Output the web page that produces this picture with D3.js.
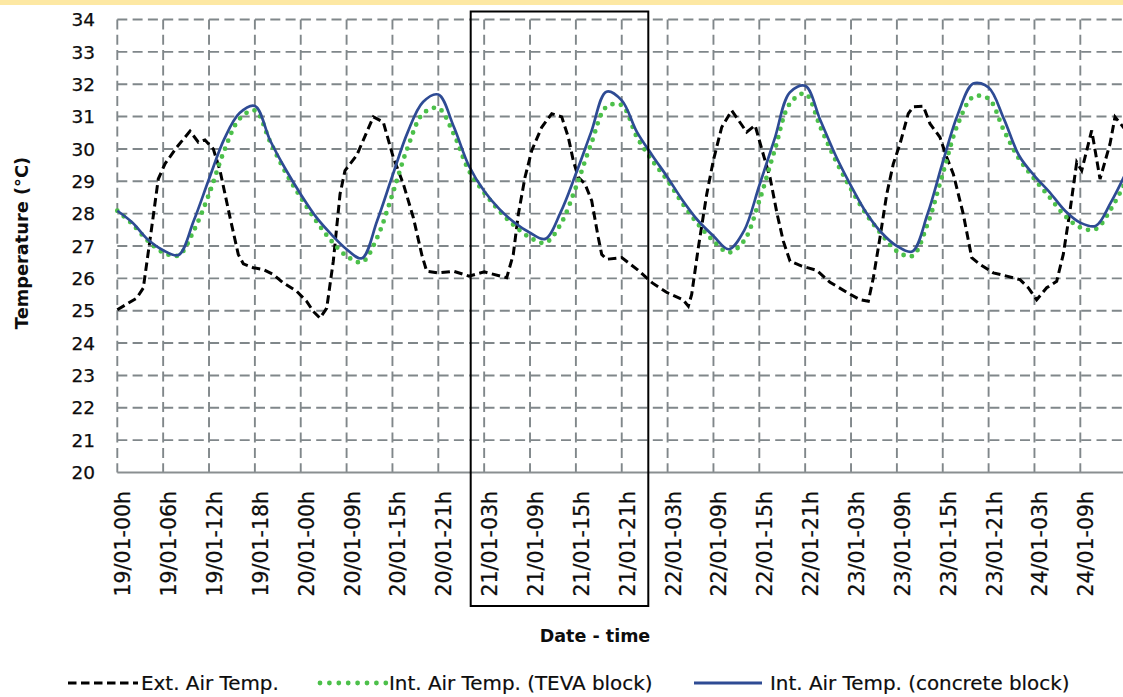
<!DOCTYPE html>
<html><head><meta charset="utf-8">
<script src="https://cdn.jsdelivr.net/npm/d3@7"></script>
<style>html,body{margin:0;padding:0;background:#fff;} svg{display:block;}</style>
</head><body><svg id="chart" width="1123" height="697"></svg>
<script>
// ---------- data ----------
const tickLabels = ["19/01-00h","19/01-06h","19/01-12h","19/01-18h","20/01-00h","20/01-09h","20/01-15h","20/01-21h",
  "21/01-03h","21/01-09h","21/01-15h","21/01-21h","22/01-03h","22/01-09h","22/01-15h","22/01-21h",
  "23/01-03h","23/01-09h","23/01-15h","23/01-21h","24/01-03h","24/01-09h"];
const yTickValues = [20,21,22,23,24,25,26,27,28,29,30,31,32,33,34];

// External air temperature: position (in category-hours) and value
const extHours = [0,2.54,3.4,4.5,5.36,6.24,7.77,9.51,10.6,11.47,12.56,13.44,14.75,15.83,16.49,17.79,19.1,20.41,21.72,23.47,
  24.78,25.64,26.52,27.4,28.26,29.14,29.79,31.32,33.5,34.8,36.11,37.42,38.73,39.83,40.48,42,44.01,46.02,48.02,50.95,
  51.81,52.47,53.34,54.22,55.53,56.84,58.15,59.01,59.66,60.32,61.19,62.07,62.93,63.38,64.03,66,68,70,72.01,74.02,
  74.71,75.15,76.02,77.12,77.98,79.08,80.39,82.35,83.44,84.75,85.4,86.32,87.14,88.02,89.55,91.51,93.25,95.43,97.18,98.26,
  98.92,99.79,100.67,101.53,102.41,103.49,104.15,105.46,106.33,107.64,108.52,109.38,110.69,111.79,112.88,114.62,116.37,118.11,119.19,120.29,
  121.6,122.91,123.77,124.65,125.53,126.18,127.49,128.58,129.89,130.54,131.63,132.5];
const extTemps = [25.03,25.39,25.7,27.57,29.07,29.54,30.05,30.55,30.21,30.28,30.0,29.33,27.88,26.74,26.45,26.33,26.27,26.12,25.86,25.6,
  25.29,24.98,24.77,25.08,26.53,28.6,29.33,29.8,30.99,30.83,29.74,28.92,27.88,26.74,26.22,26.17,26.22,26.07,26.2,26.02,
  26.74,27.98,29.12,29.95,30.67,31.09,30.99,30.36,29.64,29.12,28.92,28.4,27.26,26.74,26.59,26.64,26.28,25.86,25.55,25.34,
  25.14,25.5,26.95,28.6,29.64,30.67,31.19,30.52,30.73,29.64,29.12,28.0,27.15,26.53,26.38,26.25,25.88,25.57,25.34,25.29,
  26.02,27.26,28.6,29.54,30.16,31.09,31.3,31.32,30.78,30.36,29.74,29.23,27.98,26.64,26.43,26.17,26.07,25.96,25.71,25.34,
  25.71,25.91,26.74,28.09,29.59,29.33,30.57,29.07,30.16,30.99,30.67,30.9];

// Internal temperatures, one value every 2 category-hours (index i -> hour 2*i)
const concreteTemps = [28.09,27.72,27.2,26.87,26.72,27.78,29.07,30.31,31.11,31.33,
  30.26,29.38,28.6,27.9,27.36,26.9,26.62,27.78,29.17,30.52,
  31.45,31.68,30.7,29.48,28.7,28.14,27.72,27.41,27.22,28.04,
  29.23,30.52,31.77,31.5,30.52,29.8,29.12,28.4,27.78,27.31,
  26.9,27.47,28.87,30.31,31.75,31.95,30.88,29.79,28.86,28.03,
  27.41,27.0,26.83,27.98,29.59,31.09,32.02,31.9,30.93,29.79,
  29.17,28.66,28.09,27.72,27.62,28.35,29.28];
const tevaTemps = [28.09,27.67,27.16,26.8,26.71,27.47,28.6,29.95,30.93,31.19,
  30.22,29.28,28.5,27.78,27.16,26.69,26.5,27.26,28.6,30.05,
  31.09,31.26,30.47,29.33,28.65,28.08,27.62,27.26,27.1,27.67,
  28.81,30.16,31.3,31.35,30.36,29.64,29.02,28.3,27.67,27.16,
  26.8,27.16,28.4,29.95,31.4,31.71,30.67,29.64,28.76,27.98,
  27.36,26.84,26.69,27.67,29.23,30.78,31.61,31.55,30.57,29.69,
  29.07,28.5,27.93,27.57,27.52,28.14,29.02];
const hoursPerStep = 2;
const hoursPerLabel = 6;

const seriesNames = ["Ext. Air Temp.", "Int. Air Temp. (TEVA block)", "Int. Air Temp. (concrete block)"];
const yTitle = "Temperature (°C)";
const xTitle = "Date - time";

// ---------- drawing ----------
const W = 1123, H = 697;
const svg = d3.select("#chart");
const FONT = "'DejaVu Sans', sans-serif";
const TXT = "#0d0d0d";

svg.append("rect").attr("x",0).attr("y",0).attr("width",W).attr("height",H).attr("fill","#fff");
svg.append("rect").attr("x",0).attr("y",0).attr("width",W).attr("height",5).attr("fill","#FDE8A3");

const x = d3.scaleLinear().domain([0, 132]).range([117.3, 117.3 + 132*7.643]);
const y = d3.scaleLinear().domain([20, 34]).range([472.5, 19.5]);

const gridColor = "#80878a";
const plotRight = W;

// horizontal gridlines
svg.append("g").selectAll("line").data(yTickValues.filter(v => v > 20)).join("line")
  .attr("x1", x(0)).attr("x2", plotRight)
  .attr("y1", d => y(d)).attr("y2", d => y(d))
  .attr("stroke", gridColor).attr("stroke-width", 1.9).attr("stroke-dasharray", "10,5.3");

// vertical gridlines
const tickHours = tickLabels.map((d, i) => i * hoursPerLabel);
svg.append("g").selectAll("line").data(tickHours).join("line")
  .attr("x1", d => x(d)).attr("x2", d => x(d))
  .attr("y1", y(34)).attr("y2", y(20))
  .attr("stroke", gridColor).attr("stroke-width", 1.9).attr("stroke-dasharray", "10,5.3");

// x axis line
svg.append("line").attr("x1", x(0)).attr("x2", plotRight).attr("y1", y(20)).attr("y2", y(20))
  .attr("stroke", "#8a8f91").attr("stroke-width", 2.2);

// y tick labels
svg.append("g").selectAll("text").data(yTickValues).join("text")
  .attr("x", 95).attr("y", d => y(d)).attr("dy", "0.36em")
  .attr("text-anchor", "end").attr("font-family", FONT).attr("font-size", 18.5).attr("fill", TXT)
  .attr("stroke", TXT).attr("stroke-width", 0.25)
  .text(d => d);

// x tick labels (rotated)
svg.append("g").selectAll("text").data(tickLabels).join("text")
  .attr("transform", (d, i) => `translate(${x(tickHours[i]) + 6},491) rotate(-90)`)
  .attr("text-anchor", "end").attr("dominant-baseline", "central")
  .attr("font-family", FONT).attr("font-size", 20.5).attr("fill", TXT)
  .attr("stroke", TXT).attr("stroke-width", 0.25)
  .text(d => d);

// axis titles
svg.append("text").attr("transform", "translate(21,243) rotate(-90)")
  .attr("text-anchor", "middle").attr("dominant-baseline", "central")
  .attr("font-family", FONT).attr("font-weight", "bold").attr("font-size", 17.8).attr("fill", TXT)
  .text(yTitle);
svg.append("text").attr("x", 595).attr("y", 636)
  .attr("text-anchor", "middle").attr("dominant-baseline", "central")
  .attr("font-family", FONT).attr("font-weight", "bold").attr("font-size", 17.5).attr("fill", TXT)
  .text(xTitle);

// series
svg.append("clipPath").attr("id", "plotclip").append("rect")
  .attr("x", 100).attr("y", 0).attr("width", W - 100).attr("height", 480);
const lines = svg.append("g").attr("clip-path", "url(#plotclip)");

const extData = extHours.map((h, i) => [h, extTemps[i]]);
const concData = concreteTemps.map((v, i) => [i * hoursPerStep, v]);
const tevaData = tevaTemps.map((v, i) => [i * hoursPerStep, v]);
const lineGen = d3.line().x(d => x(d[0])).y(d => y(d[1]));
const smoothGen = d3.line().x(d => x(d[0])).y(d => y(d[1])).curve(d3.curveCatmullRom.alpha(0.5));

lines.append("path").attr("d", lineGen(extData)).attr("fill", "none")
  .attr("stroke", "#000").attr("stroke-width", 3).attr("stroke-dasharray", "8.5,4.5");
lines.append("path").attr("d", smoothGen(tevaData)).attr("fill", "none")
  .attr("stroke", "#4cc04a").attr("stroke-width", 4.8).attr("stroke-linecap", "round")
  .attr("stroke-dasharray", "0,8.5");
lines.append("path").attr("d", smoothGen(concData)).attr("fill", "none")
  .attr("stroke", "#2e4b94").attr("stroke-width", 2.7).attr("stroke-linejoin", "round");

// highlight box
svg.append("rect").attr("x", 470.7).attr("y", 11.5).attr("width", 177.6).attr("height", 594.5)
  .attr("fill", "none").attr("stroke", "#000").attr("stroke-width", 2);

// legend
const legY = 683;
const leg = svg.append("g");
leg.append("line").attr("x1", 68).attr("x2", 138).attr("y1", legY).attr("y2", legY)
  .attr("stroke", "#000").attr("stroke-width", 3).attr("stroke-dasharray", "8.5,4.5");
leg.append("line").attr("x1", 320).attr("x2", 386).attr("y1", legY).attr("y2", legY)
  .attr("stroke", "#4cc04a").attr("stroke-width", 4.8).attr("stroke-linecap", "round").attr("stroke-dasharray", "0,9.4");
leg.append("line").attr("x1", 694).attr("x2", 762).attr("y1", legY).attr("y2", legY)
  .attr("stroke", "#2e4b94").attr("stroke-width", 2.9);
const legTextX = [141, 389, 770];
leg.selectAll("text").data(seriesNames).join("text")
  .attr("x", (d, i) => legTextX[i]).attr("y", legY).attr("dominant-baseline", "central")
  .attr("font-family", FONT).attr("font-size", 19.9).attr("fill", TXT)
  .attr("stroke", TXT).attr("stroke-width", 0.2)
  .text(d => d);
</script>
</body></html>
